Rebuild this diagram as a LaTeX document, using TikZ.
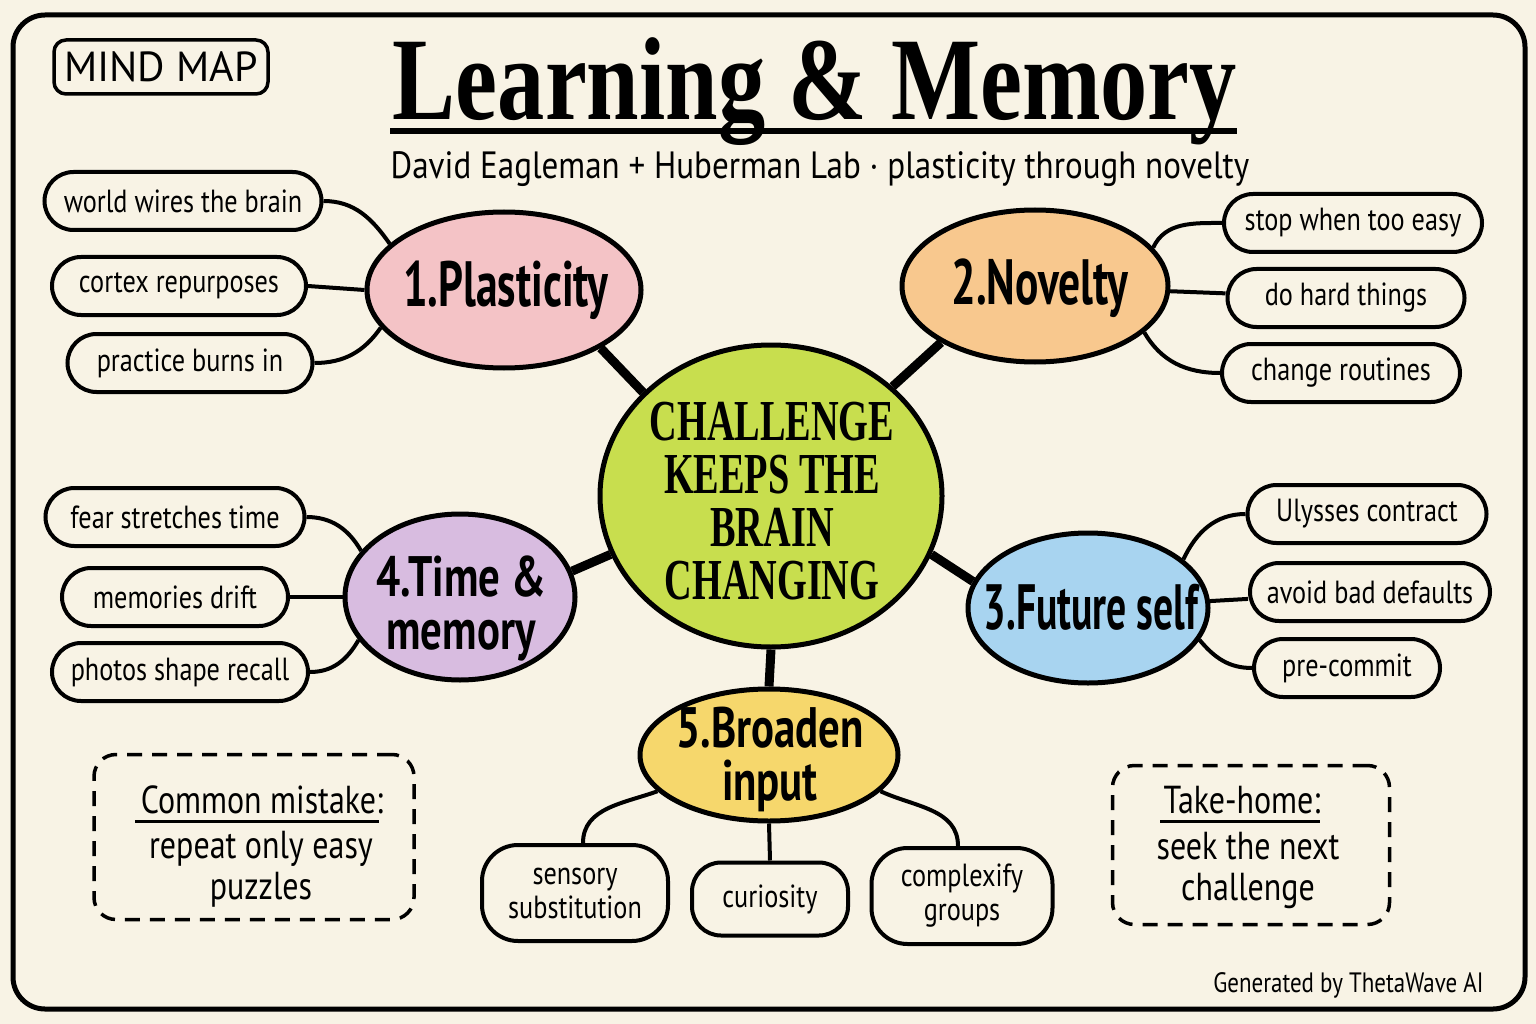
\documentclass[tikz,border=0pt]{standalone}
\usepackage{fontspec}
\usetikzlibrary{shapes.geometric}
\newfontfamily\hand[FakeStretch=0.82]{PT Sans}
\newfontfamily\handsub[FakeStretch=0.87]{PT Sans}
\newfontfamily\handw{PT Sans}
\newfontfamily\topicf[FakeStretch=0.68]{PT Sans}
\newfontfamily\topicn[FakeStretch=0.62]{PT Sans}
\newfontfamily\topicb[FakeStretch=0.75]{PT Sans}
\newfontfamily\titlef[FakeStretch=0.8]{Liberation Serif}
\newfontfamily\centerf[FakeStretch=0.66]{Liberation Serif}
\definecolor{bg}{HTML}{F8F3E5}
\definecolor{cpink}{HTML}{F4C3C6}
\definecolor{corange}{HTML}{F8C88E}
\definecolor{cgreen}{HTML}{C8DE4E}
\definecolor{cpurple}{HTML}{D8BCE0}
\definecolor{cblue}{HTML}{A8D4F0}
\definecolor{cyellow}{HTML}{F6D76C}
\tikzset{
  leaf/.style={draw, line width=4, rounded corners=29, minimum height=58, fill=bg, inner sep=0,
    font=\hand\fontsize{32}{34}\selectfont, align=center},
  tallleaf/.style={leaf, rounded corners=36, minimum height=96},
  topic/.style={draw, ellipse, line width=5, inner sep=0},
  topictext/.style={align=center, inner sep=0, font=\topicf\bfseries\fontsize{64}{50}\selectfont},
  topictextn/.style={topictext, font=\topicn\bfseries\fontsize{64}{50}\selectfont},
  topictextb/.style={topictext, font=\topicb\bfseries\fontsize{57}{53}\selectfont},
  thin/.style={line width=4},
  thick/.style={line width=9},
  dashbox/.style={draw, line width=3.5, dash pattern=on 15 off 10, rounded corners=22},
  boxtext/.style={font=\hand\fontsize{39}{41}\selectfont, align=center}
}
\begin{document}
\begin{tikzpicture}[x=1pt,y=1pt]
\useasboundingbox (0,0) rectangle (1536,-1024);
\fill[bg] (0,0) rectangle (1536,-1024);
\draw[line width=5, rounded corners=32] (13,-15) rectangle (1525,-1009);

% header
\node[draw, line width=3.5, rounded corners=12, minimum width=214, minimum height=54,
  font=\handw\fontsize{42}{44}\selectfont] (mm) at (161,-67) {MIND MAP};
\node[font=\titlef\bfseries\fontsize{118}{120}\selectfont, anchor=base] (title) at (815,-120) {Learning \& Memory};
\draw[line width=6] (390,-131) -- (1237,-131);
\node[font=\handsub\fontsize{38}{40}\selectfont, anchor=base] (sub) at (820,-179)
  {David Eagleman + Huberman Lab · plasticity through novelty};

% centre and topics
\node[draw, ellipse, line width=5, fill=cgreen, minimum width=342, minimum height=302, inner sep=0] (c) at (771,-496) {};
\node[align=center, inner sep=0, font=\centerf\bfseries\fontsize{58}{53}\selectfont] (ct) at (772,-501)
  {CHALLENGE\\KEEPS THE\\BRAIN\\CHANGING};
\node[topic, fill=cpink, minimum width=274, minimum height=156] (p) at (504,-290) {};
\node[topictext] (pt) at (506,-290) {1.Plasticity};
\node[topic, fill=corange, minimum width=266, minimum height=152] (n) at (1035,-286) {};
\node[topictext] (nt) at (1040,-288) {2.Novelty};
\node[topic, fill=cblue, minimum width=240, minimum height=150] (f) at (1088,-608) {};
\node[topictextn] (ft) at (1091,-607) {3.Future self};
\node[topic, fill=cpurple, minimum width=230, minimum height=166] (t) at (460,-597) {};
\node[topictextb] (tt) at (461,-608) {4.Time \&\\memory};
\node[topic, fill=cyellow, minimum width=258, minimum height=132] (b) at (769,-755) {};
\node[topictextb] (bt) at (770,-759) {5.Broaden\\input};

\draw[thick] (c.141) -- (p.-31);
\draw[thick] (c.42) -- (n.211);
\draw[thick] (c.200) -- (t.13);
\draw[thick] (c.-20) -- (f.167);
\draw[thick] (c.south) -- (b.north);

% leaves
\node[leaf, minimum width=277] (l1) at (183,-201) {world wires the brain};
\node[leaf, minimum width=254] (l2) at (179,-286) {cortex repurposes};
\node[leaf, minimum width=245] (l3) at (190,-363) {practice burns in};
\node[leaf, minimum width=258] (r1) at (1353,-223) {stop when too easy};
\node[leaf, minimum width=237] (r2) at (1346,-298) {do hard things};
\node[leaf, minimum width=238] (r3) at (1341,-373) {change routines};
\node[leaf, minimum width=259] (m1) at (175,-517) {fear stretches time};
\node[leaf, minimum width=226] (m2) at (175,-597) {memories drift};
\node[leaf, minimum width=256] (m3) at (180,-672) {photos shape recall};
\node[leaf, minimum width=239] (s1) at (1367,-514) {Ulysses contract};
\node[leaf, minimum width=240] (s2) at (1370,-592) {avoid bad defaults};
\node[leaf, minimum width=186] (s3) at (1347,-668) {pre-commit};
\node[tallleaf, minimum width=186] (b1) at (575,-893) {sensory\\substitution};
\node[leaf, minimum width=156, minimum height=73] (b2) at (770,-899) {curiosity};
\node[tallleaf, minimum width=181] (b3) at (962,-896) {complexify\\groups};

\draw[thin] (l1.east) to[out=0,in=125] (p.158);
\draw[thin] (l2.east) -- (p.west);
\draw[thin] (l3.east) to[out=0,in=235] (p.197);
\draw[thin] (n.18) to[out=65,in=180] (r1.west);
\draw[thin] (n) -- (r2);
\draw[thin] (n.-23) to[out=-60,in=180] (r3.west);
\draw[thin] (m1.east) to[out=0,in=120] (t.155);
\draw[thin] (m2.east) -- (t.west);
\draw[thin] (m3.east) to[out=0,in=240] (t.203);
\draw[thin] (f.27) to[out=65,in=180] (s1.west);
\draw[thin] (f) -- (s2);
\draw[thin] (f.-16) to[out=-50,in=180] (s3.west);
\draw[thin] (b.198) to[out=200,in=90] ([xshift=8]b1.north);
\draw[thin] (b.south) -- (b2.north);
\draw[thin] (b.-18) to[out=-25,in=90] ([xshift=-4]b3.north);

% dashed boxes
\node[dashbox, minimum width=320, minimum height=165] (cmbox) at (254,-837) {};
\node[boxtext] (cmh) at (262,-800) {Common mistake:};
\draw[line width=3] ([xshift=-2,yshift=-4]cmh.south west) -- ([xshift=-8,yshift=-4]cmh.south east);
\node[boxtext] (cmt) at (261,-869) {repeat only easy\\puzzles};

\node[dashbox, minimum width=277, minimum height=159] (thbox) at (1251,-845) {};
\node[boxtext] (thh) at (1242,-800) {Take-home:};
\draw[line width=3] ([xshift=0,yshift=-4]thh.south west) -- ([xshift=-4,yshift=-4]thh.south east);
\node[boxtext] (tht) at (1248,-870) {seek the next\\challenge};

\node[font=\hand\fontsize{28}{30}\selectfont, anchor=base east] (foot) at (1487,-992) {Generated by ThetaWave AI};
\end{tikzpicture}
\end{document}
